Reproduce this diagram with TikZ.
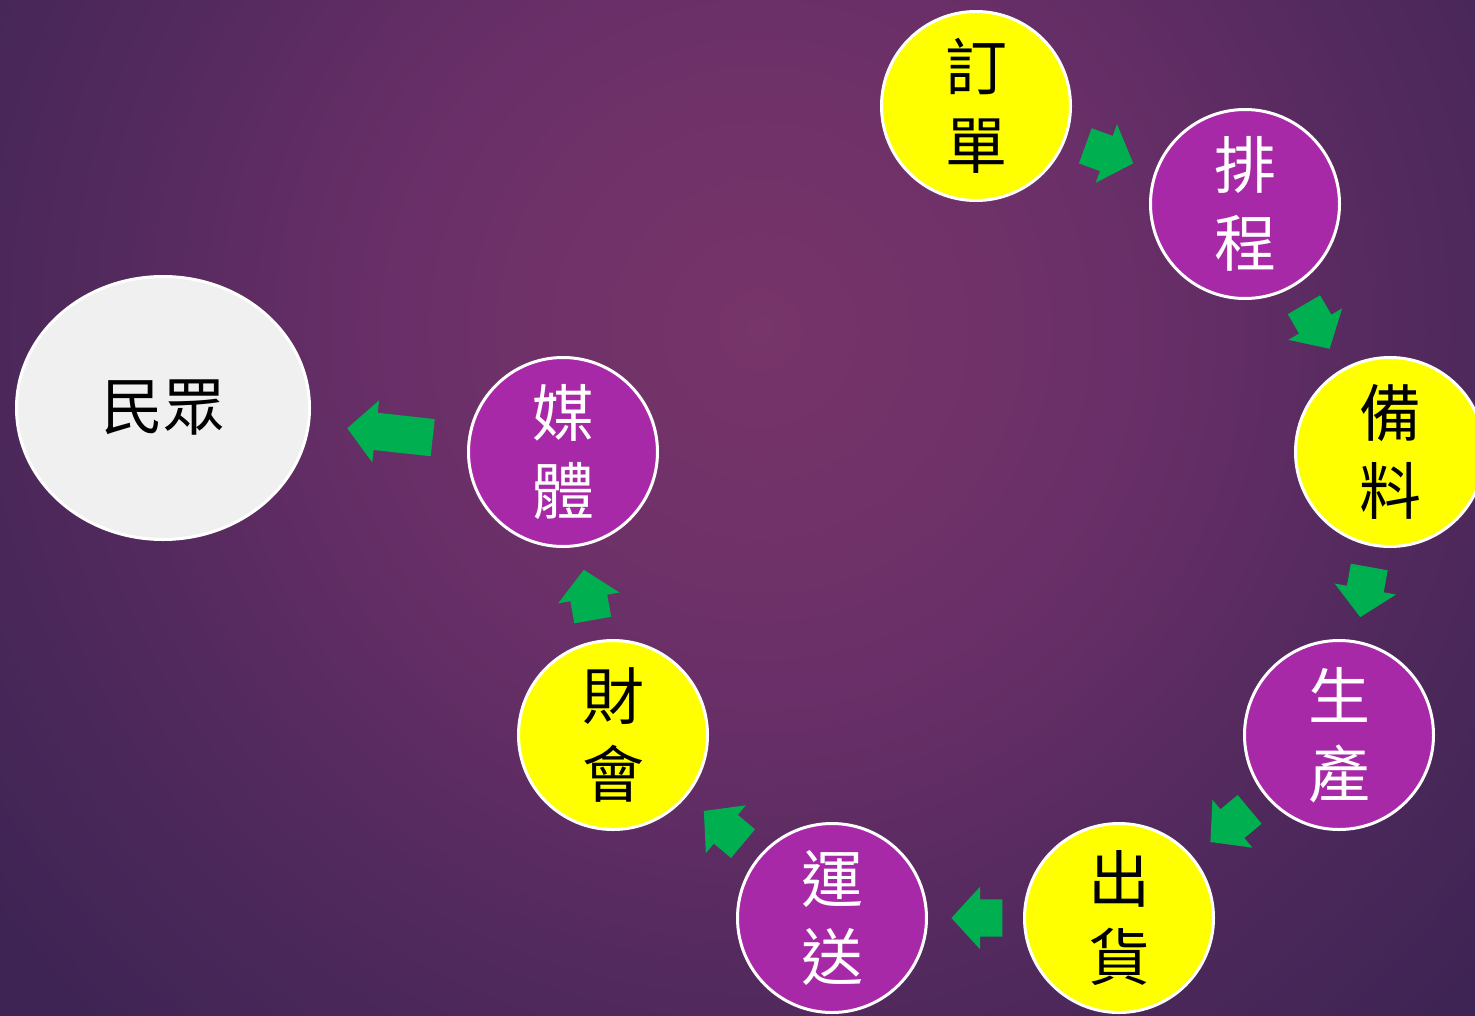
\documentclass[tikz,border=0pt]{standalone}
\usepackage{fontspec}
\newfontfamily\cjk{Noto Sans CJK TC}
\usetikzlibrary{shapes.arrows,shapes.geometric,calc}
\definecolor{ylw}{HTML}{FFFF00}
\definecolor{prp}{HTML}{A829A8}
\definecolor{grn}{HTML}{00B050}
\definecolor{ppl}{HTML}{F0F0F0}
\definecolor{bga}{HTML}{773569}
\definecolor{bgb}{HTML}{6A2F68}
\definecolor{bgc}{HTML}{542A5E}
\definecolor{bgd}{HTML}{3E2454}
\pgfdeclareradialshading{bgshade}{\pgfpoint{0bp}{0bp}}{color(0bp)=(bga); color(8.2bp)=(bgb); color(14.5bp)=(bgc); color(21.8bp)=(bgd); color(50bp)=(bgd)}
\begin{document}
\begin{tikzpicture}[x=1pt,y=-1pt,
  stepcircle/.style={circle, draw=white, line width=3pt, minimum size=189pt, inner sep=0pt, align=center, font=\cjk\fontsize{62}{78}\selectfont},
  ycirc/.style={stepcircle, fill=ylw, text=black},
  pcirc/.style={stepcircle, fill=prp, text=white},
  blk/.style={single arrow, fill=grn, draw=none, minimum width=0pt, inner xsep=0pt, inner ysep=18.5pt, single arrow head extend=12.5pt, single arrow tip angle=95, single arrow head indent=0pt, minimum height=51pt, sloped, allow upside down, pos=0.395}]
\useasboundingbox (0,0) rectangle (1475,1015);
\begin{scope}
  \clip (0,0) rectangle (1475,1015);
  \fill[bgd] (-10,-10) rectangle (1485,1025);
  \shade[shading=bgshade] (760,330) circle (1100);
\end{scope}
\node[ycirc] (order) at (976,106) {訂\\單};
\node[pcirc] (sched) at (1245,204) {排\\程};
\node[ycirc] (prep) at (1390,452) {備\\料};
\node[pcirc] (prod) at (1339,735) {生\\產};
\node[ycirc] (ship) at (1119,918) {出\\貨};
\node[pcirc] (trans) at (832,918) {運\\送};
\node[ycirc] (fin) at (613,735) {財\\會};
\node[pcirc] (media) at (563,452) {媒\\體};
\node[ellipse, draw=white, line width=3pt, fill=ppl, minimum width=293pt, minimum height=263pt, inner sep=0pt, font=\cjk\fontsize{62}{78}\selectfont, text=black] (people) at (163,408) {民眾};
\path (order) -- node[blk]{} (sched);
\path (sched) -- node[blk]{} (prep);
\path (prep) -- node[blk]{} (prod);
\path (prod) -- node[blk]{} (ship);
\path (ship) -- node[blk]{} (trans);
\path (trans) -- node[blk]{} (fin);
\path (fin) -- node[blk]{} (media);
\path (media) -- node[blk, minimum height=86pt, pos=0.438]{} (people);
\end{tikzpicture}
\end{document}
